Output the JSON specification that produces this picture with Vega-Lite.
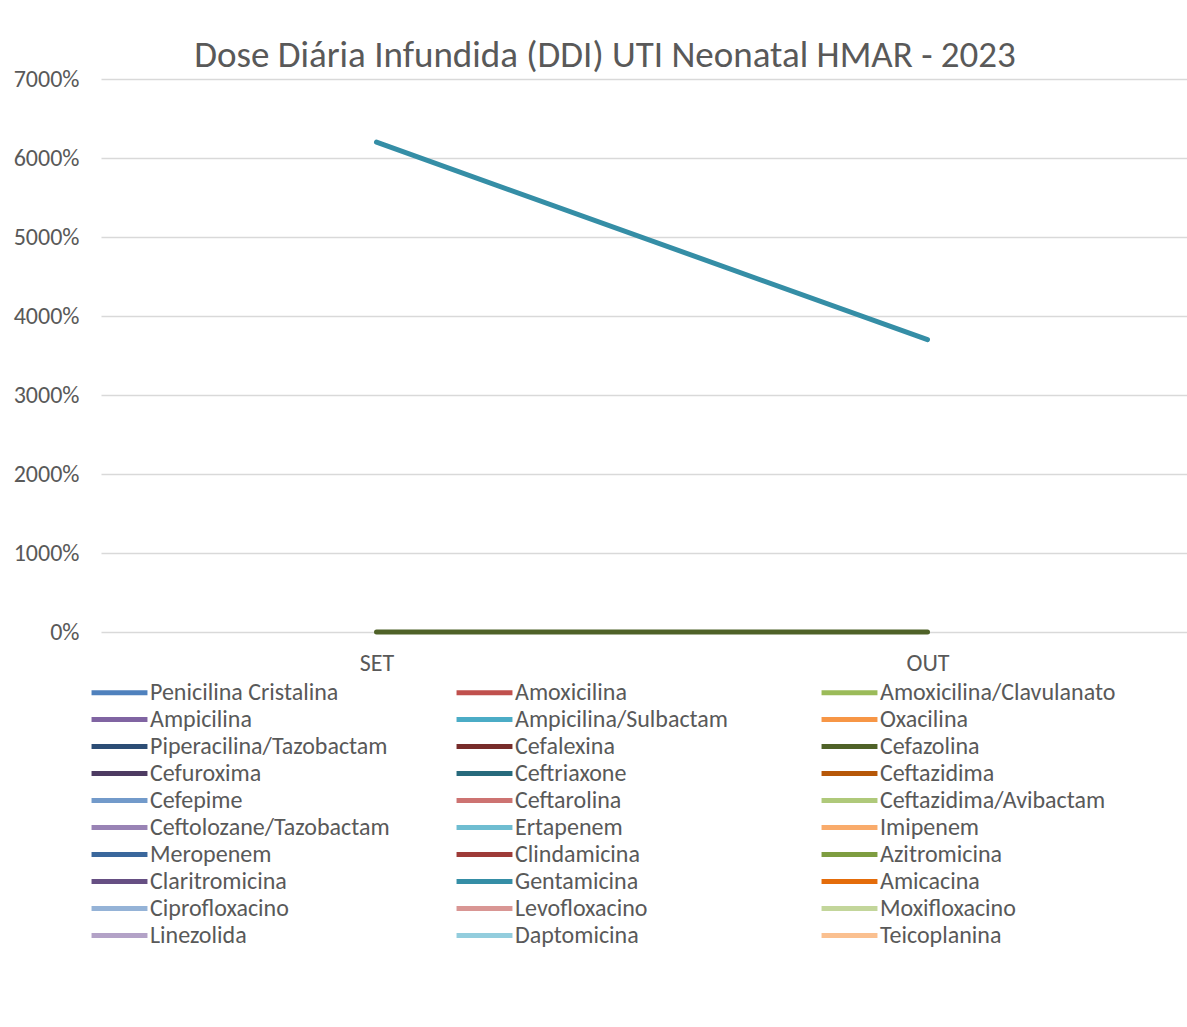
{
  "$schema": "https://vega.github.io/schema/vega-lite/v6.json",
  "width": 1102,
  "height": 553,
  "autosize": {"type": "none"},
  "padding": {"left": 101, "top": 79, "right": 0, "bottom": 395},
  "background": "white",
  "title": {
    "text": "Dose Diária Infundida (DDI) UTI Neonatal HMAR - 2023",
    "font": "Carlito, Lato",
    "fontSize": 37,
    "fontWeight": "normal",
    "color": "#595959",
    "anchor": "middle",
    "dx": -47,
    "offset": -8
  },
  "data": {
    "values": [
      {"serie": "Cefazolina", "mes": "SET", "valor": 0},
      {"serie": "Cefazolina", "mes": "OUT", "valor": 0},
      {"serie": "Gentamicina", "mes": "SET", "valor": 62},
      {"serie": "Gentamicina", "mes": "OUT", "valor": 37}
    ]
  },
  "mark": {"type": "line", "strokeWidth": 5, "strokeCap": "round", "strokeJoin": "round"},
  "encoding": {
    "x": {
      "field": "mes",
      "type": "nominal",
      "sort": ["SET", "OUT"],
      "scale": {"type": "point", "padding": 0.5},
      "axis": {
        "title": null,
        "labelAngle": 0,
        "labelFont": "Carlito, Lato",
        "labelFontSize": 24,
        "labelColor": "#595959",
        "labelPadding": 19,
        "domain": false,
        "ticks": false,
        "grid": false
      }
    },
    "y": {
      "field": "valor",
      "type": "quantitative",
      "scale": {"domain": [0, 70]},
      "axis": {
        "title": null,
        "format": ".0%",
        "values": [0, 10, 20, 30, 40, 50, 60, 70],
        "labelFont": "Carlito, Lato",
        "labelFontSize": 24,
        "labelColor": "#595959",
        "labelPadding": 22,
        "domain": false,
        "ticks": false,
        "grid": true,
        "gridColor": "#D9D9D9",
        "gridWidth": 1.5
      }
    },
    "color": {
      "field": "serie",
      "type": "nominal",
      "scale": {
        "domain": ["Penicilina Cristalina", "Amoxicilina", "Amoxicilina/Clavulanato", "Ampicilina", "Ampicilina/Sulbactam", "Oxacilina", "Piperacilina/Tazobactam", "Cefalexina", "Cefazolina", "Cefuroxima", "Ceftriaxone", "Ceftazidima", "Cefepime", "Ceftarolina", "Ceftazidima/Avibactam", "Ceftolozane/Tazobactam", "Ertapenem", "Imipenem", "Meropenem", "Clindamicina", "Azitromicina", "Claritromicina", "Gentamicina", "Amicacina", "Ciprofloxacino", "Levofloxacino", "Moxifloxacino", "Linezolida", "Daptomicina", "Teicoplanina"],
        "range": ["#4F81BD", "#C0504D", "#9BBB59", "#8064A2", "#4BACC6", "#F79646", "#2C4D75", "#772C2A", "#4F6228", "#4D3B62", "#276A7C", "#B65708", "#729ACA", "#CD7371", "#AFC97A", "#9983B5", "#6FBDD1", "#F9AB6B", "#3A679C", "#9E3B38", "#7E9D40", "#664F83", "#358EA6", "#E46C0A", "#95B3D7", "#D99694", "#C3D69B", "#B3A2C7", "#93CDDD", "#FAC090"]
      },
      "legend": {
        "title": null,
        "orient": "none",
        "legendX": 4,
        "legendY": 599,
        "direction": "horizontal",
        "columns": 3,
        "gridAlign": "all",
        "columnPadding": 56,
        "rowPadding": -2.8,
        "symbolType": "M-2.33,0H2.33",
        "symbolSize": 576,
        "symbolStrokeWidth": 5,
        "symbolStrokeCap": "round",
        "labelFont": "Carlito, Lato",
        "labelFontSize": 24,
        "labelColor": "#595959",
        "labelOffset": 16,
        "labelLimit": 400
      }
    }
  },
  "config": {"view": {"stroke": null}}
}
